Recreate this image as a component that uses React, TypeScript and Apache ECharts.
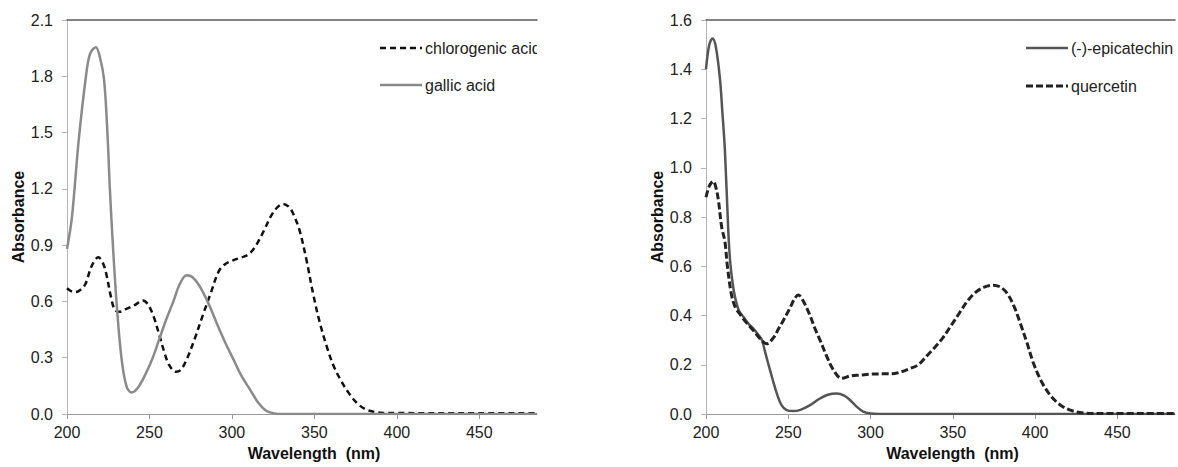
import React, { useEffect, useRef } from "react";
import * as echarts from "echarts";

// ---- Data ----
const xTicksLeft = [200, 250, 300, 350, 400, 450];
const yTicksLeft = [0, 0.3, 0.6, 0.9, 1.2, 1.5, 1.8, 2.1];
const yTicksRight = [0, 0.2, 0.4, 0.6, 0.8, 1.0, 1.2, 1.4, 1.6];

const gallicX = [200, 203, 207, 211.5, 214, 217.5, 220, 222.5, 224.5, 226, 227.5, 230, 233, 236, 239, 243, 248, 252, 256, 260, 264.5, 268, 272.5, 276, 280.5, 286, 291, 296, 301, 306, 311, 316, 321, 326, 330, 350, 400, 450, 485];
const gallicY = [0.88, 1.05, 1.45, 1.8, 1.92, 1.955, 1.9, 1.78, 1.5, 1.2, 0.95, 0.6, 0.3, 0.15, 0.115, 0.14, 0.22, 0.3, 0.4, 0.5, 0.6, 0.685, 0.74, 0.73, 0.68, 0.585, 0.48, 0.38, 0.29, 0.2, 0.13, 0.06, 0.016, 0.003, 0, 0, 0, 0, 0];

const chloroX = [200, 204, 207, 211, 215, 219, 222, 224, 226.5, 229, 232, 236, 241, 246, 249, 252.5, 256, 259, 262, 266, 269, 272.5, 277, 282.5, 287, 292, 296, 301, 306, 310, 314, 319, 324, 328, 331, 335, 338, 341, 345, 349.5, 353.5, 357.5, 361.5, 366, 371, 376, 381, 386, 392, 400, 450, 485];
const chloroY = [0.67, 0.65, 0.655, 0.69, 0.79, 0.835, 0.8, 0.74, 0.63, 0.555, 0.545, 0.56, 0.58, 0.605, 0.585, 0.52, 0.42, 0.33, 0.26, 0.225, 0.235, 0.29, 0.39, 0.53, 0.64, 0.76, 0.8, 0.82, 0.835, 0.85, 0.89, 0.97, 1.06, 1.105, 1.12, 1.1, 1.05, 0.98, 0.83, 0.63, 0.48, 0.36, 0.26, 0.18, 0.11, 0.057, 0.025, 0.012, 0.006, 0.005, 0.004, 0.004];

const epiX = [200, 202, 204, 206, 208.5, 210, 211.5, 213.5, 214.6, 216, 217.6, 220, 222.7, 226, 229, 232, 234, 236, 238, 240.5, 243, 246, 249, 253, 257, 263, 269, 274, 279.5, 284, 287.5, 291.5, 295.5, 300, 305, 350, 400, 450, 485];
const epiY = [1.4, 1.5, 1.525, 1.49, 1.36, 1.22, 1.07, 0.75, 0.625, 0.54, 0.476, 0.42, 0.395, 0.365, 0.345, 0.32, 0.3, 0.25, 0.2, 0.14, 0.084, 0.035, 0.016, 0.012, 0.016, 0.035, 0.062, 0.078, 0.083, 0.075, 0.057, 0.03, 0.01, 0.002, 0, 0, 0, 0, 0];

const querX = [200, 202, 204.4, 206, 207.5, 209.5, 211.5, 213, 215.6, 218, 220.7, 224, 228.7, 233, 236.8, 241, 244, 247, 251, 254, 256.1, 259, 263.2, 266, 269.3, 273, 277.3, 282.4, 288, 293.6, 300, 307.7, 313, 318, 324, 329, 334, 339, 344, 349, 354, 359, 364, 369, 374.5, 379, 383, 387, 391, 395, 399, 404, 409, 414, 419, 424, 430, 440, 485];
const querY = [0.88, 0.925, 0.945, 0.92, 0.87, 0.76, 0.7, 0.6, 0.48, 0.43, 0.405, 0.375, 0.34, 0.305, 0.285, 0.31, 0.345, 0.38, 0.43, 0.47, 0.483, 0.46, 0.4, 0.35, 0.3, 0.24, 0.18, 0.145, 0.155, 0.158, 0.162, 0.163, 0.163, 0.17, 0.185, 0.2, 0.235, 0.27, 0.31, 0.36, 0.41, 0.46, 0.495, 0.515, 0.523, 0.515, 0.49, 0.44, 0.368, 0.29, 0.206, 0.13, 0.078, 0.043, 0.022, 0.01, 0.004, 0.002, 0.002];

const legendLeft = ["chlorogenic acid", "gallic acid"];
const legendRight = ["(-)-epicatechin", "quercetin"];

const pairs = (xs: number[], ys: number[]) => xs.map((x, i) => [x, ys[i]]);

const FONT = "'Liberation Sans', Arial, sans-serif";

export default function App() {
  const ref = useRef<HTMLDivElement>(null);
  useEffect(() => {
    document.body.style.margin = "0";
    const chart = echarts.init(ref.current!, null, { renderer: "svg" });

    const xAxisBase = (gridIndex: number) => ({
      type: "value",
      gridIndex,
      min: 200,
      max: 485,
      interval: 50,
      axisLine: { show: true, lineStyle: { color: "#999", width: 1 } },
      axisTick: { show: true, length: 5, lineStyle: { color: "#999" } },
      axisLabel: {
        margin: 10,
        fontSize: 16,
        color: "#222",
        fontFamily: FONT,
        showMaxLabel: false,
      },
      splitLine: { show: false },
      name: "Wavelength  (nm)",
      nameLocation: "middle",
      nameGap: 31,
      nameTextStyle: {
        fontSize: 16,
        fontWeight: "bold",
        color: "#111",
        fontFamily: FONT,
        padding: [0, 0, 0, 24],
      },
    });
    const topAxis = (gridIndex: number) => ({
      type: "value",
      gridIndex,
      position: "top",
      min: 200,
      max: 485,
      axisLine: { show: true, lineStyle: { color: "#5a5a5a", width: 1.6 } },
      axisTick: { show: false },
      axisLabel: { show: false },
      splitLine: { show: false },
    });
    const yAxisBase = (gridIndex: number, max: number, interval: number, decimals: number) => ({
      type: "value",
      gridIndex,
      min: 0,
      max,
      interval,
      axisLine: { show: true, lineStyle: { color: "#b5b5b5", width: 1 } },
      axisTick: { show: true, length: 5, lineStyle: { color: "#b5b5b5" } },
      axisLabel: {
        margin: 14,
        fontSize: 16,
        color: "#222",
        fontFamily: FONT,
        formatter: (v: number) => v.toFixed(decimals),
      },
      splitLine: { show: false },
      name: "Absorbance",
      nameLocation: "middle",
      nameGap: 41,
      nameTextStyle: {
        fontSize: 16,
        fontWeight: "bold",
        color: "#111",
        fontFamily: FONT,
      },
    });

    const lineSeries = (
      name: string,
      xAxisIndex: number,
      yAxisIndex: number,
      data: number[][],
      color: string,
      width: number,
      dash: any
    ) => ({
      type: "line",
      name,
      xAxisIndex,
      yAxisIndex,
      data,
      showSymbol: false,
      smooth: 0.35,
      lineStyle: { color, width, type: dash, join: "round", cap: "butt" },
      z: 3,
    });

    const legendItem = (x: number, y: number, label: string, color: string, width: number, dash: any) => [
      {
        type: "line",
        shape: { x1: x, y1: y, x2: x + 42, y2: y },
        style: { stroke: color, lineWidth: width, lineDash: dash },
      },
      {
        type: "text",
        x: x + 45,
        y,
        style: {
          text: label,
          fontSize: 16,
          fontFamily: FONT,
          fill: "#222",
          verticalAlign: "middle",
          align: "left",
        },
      },
    ];

    chart.setOption({
      animation: false,
      backgroundColor: "#fff",
      grid: [
        { left: 67, top: 20, width: 470, height: 394 },
        { left: 706, top: 20, width: 469, height: 394 },
      ],
      xAxis: [xAxisBase(0), xAxisBase(1), topAxis(0), topAxis(1)],
      yAxis: [yAxisBase(0, 2.1, 0.3, 1), yAxisBase(1, 1.6, 0.2, 1)],
      series: [
        lineSeries(legendLeft[0], 0, 0, pairs(chloroX, chloroY), "#111", 2.5, [6, 4]),
        lineSeries(legendLeft[1], 0, 0, pairs(gallicX, gallicY), "#8a8a8a", 2.5, "solid"),
        lineSeries(legendRight[0], 1, 1, pairs(epiX, epiY), "#555", 2.5, "solid"),
        lineSeries(legendRight[1], 1, 1, pairs(querX, querY), "#222", 3, [7, 3]),
      ],
      graphic: [
        ...legendItem(380, 48, legendLeft[0], "#111", 2.5, [6, 4]),
        ...legendItem(380, 85, legendLeft[1], "#8a8a8a", 2.5, null),
        {
          type: "rect",
          shape: { x: 537, y: 36, width: 30, height: 26 },
          style: { fill: "#fff" },
          z: 100,
        },
        ...legendItem(1026, 48, legendRight[0], "#555", 2.5, null),
        ...legendItem(1026, 86, legendRight[1], "#222", 3, [7, 3]),
      ],
    });
    return () => chart.dispose();
  }, []);
  return <div ref={ref} style={{ width: 1178, height: 467 }} />;
}
